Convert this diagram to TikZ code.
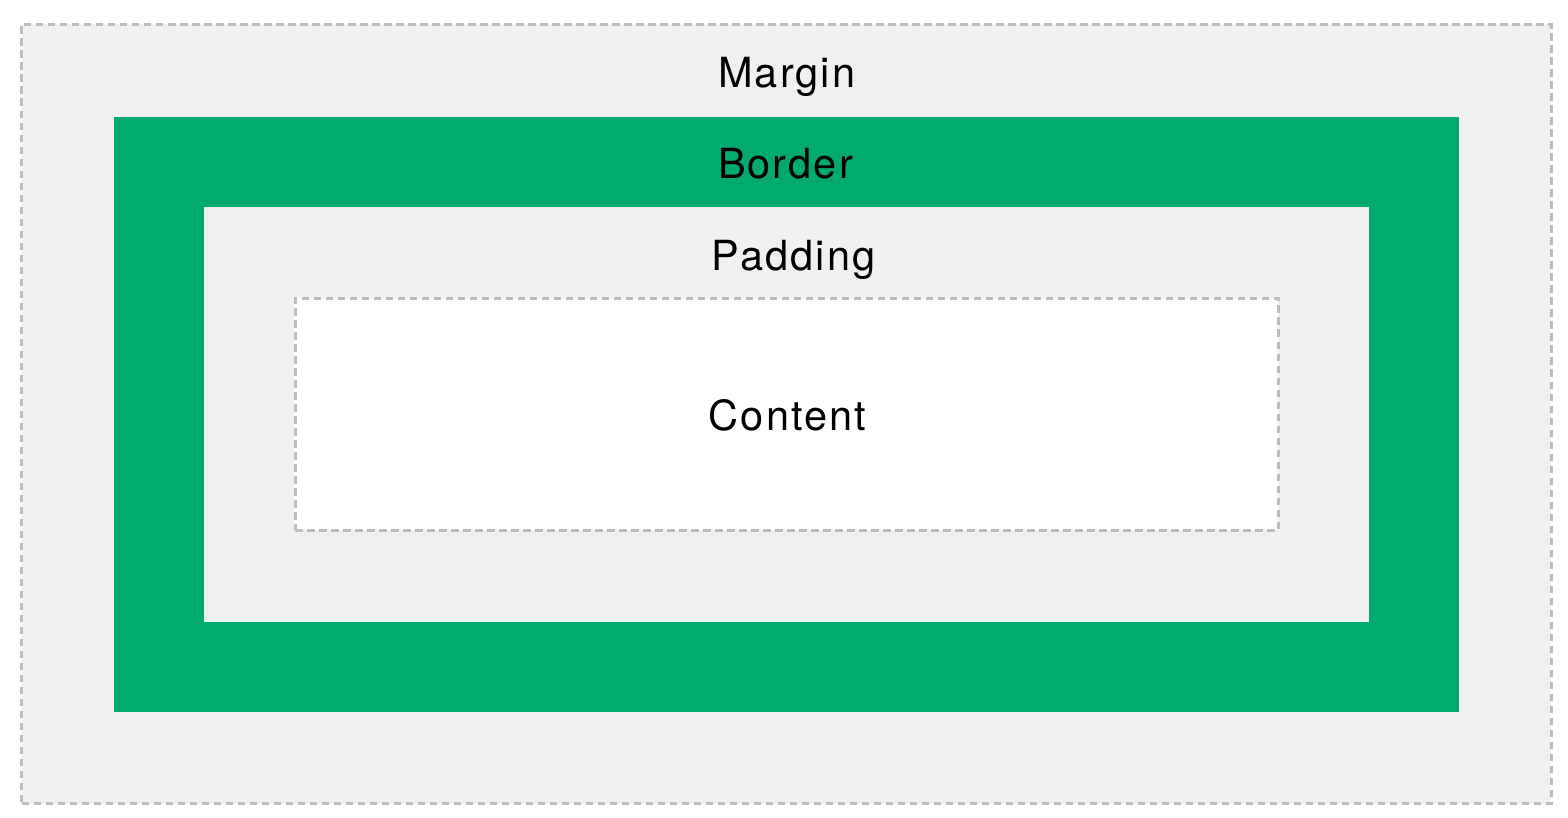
\documentclass[tikz,border=0pt]{standalone}
\usepackage{fontspec}
\setmainfont{TeX Gyre Heros}[LetterSpace=5]
\definecolor{boxgreen}{HTML}{02AA6D}
\definecolor{boxgray}{HTML}{F0F0F0}
\definecolor{dashgray}{HTML}{BDBDBD}
\begin{document}
\begin{tikzpicture}[x=1pt,y=-1pt,
  area/.style={draw=none,rectangle,inner sep=0pt,outer sep=0pt},
  dashbox/.style={draw=dashgray,line width=3pt,dash pattern=on 7.5pt off 4.5pt},
  lbl/.style={font=\fontsize{41.5}{48}\selectfont,text=black,inner sep=0pt,anchor=base}]
\useasboundingbox[fill=white] (0,0) rectangle (1568,818);
\node[area,dashbox,fill=boxgray,minimum width=1529.5pt,minimum height=779pt] (margin) at (786.25,414) {};
\node[area,fill=boxgreen,minimum width=1345pt,minimum height=595pt] (border) at (786.5,414.5) {};
\node[area,fill=boxgray,minimum width=1165pt,minimum height=415pt] (padding) at (786.5,414.5) {};
\node[area,dashbox,fill=white,minimum width=983pt,minimum height=232pt] (content) at (786.5,414) {};
\node[lbl] (tm) at (786.7,87.3) {Margin};
\node[lbl] (tb) at (785.5,178.3) {Border};
\node[lbl] (tp) at (793.5,270) {Padding};
\node[lbl] (tc) at (787.5,430) {Content};
\end{tikzpicture}
\end{document}
